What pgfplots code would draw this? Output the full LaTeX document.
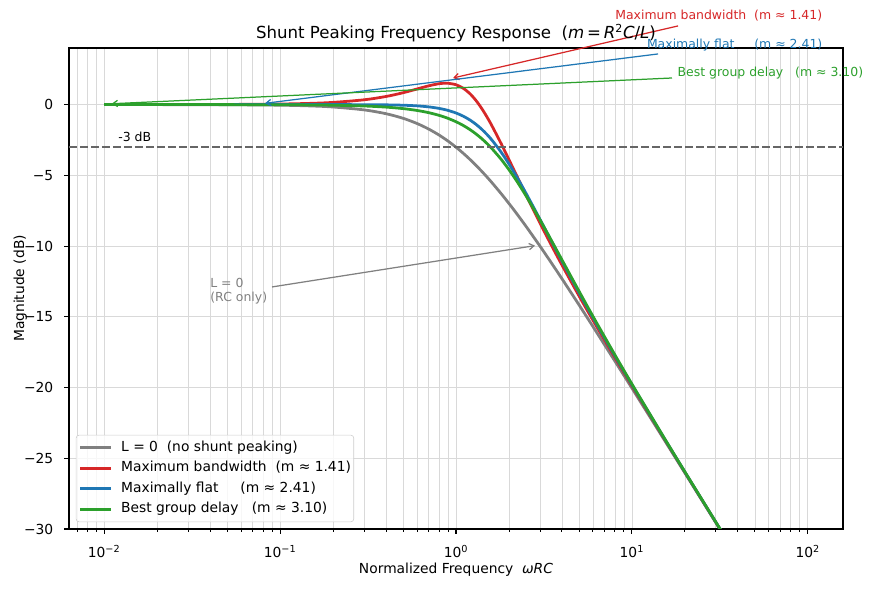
\documentclass[border=0pt]{standalone}
\usepackage{fontspec}
\setmainfont{DejaVu Sans}
\usepackage{pgfplots}
\usepackage{pgfplotstable}
\pgfplotsset{compat=1.18}
\usetikzlibrary{arrows.meta}

\definecolor{cGray}{HTML}{808080}
\definecolor{cRed}{HTML}{D62728}
\definecolor{cBlue}{HTML}{1F77B4}
\definecolor{cGreen}{HTML}{2CA02C}
\definecolor{cDash}{HTML}{666666}

% |H| in dB versus normalized frequency wRC
% L0: no inductor; mb: m = 1.41; mf: m = 2.41; gd: m = 3.10
\pgfplotstableread{
x      L0        mb        mf        gd
0.01   -0.0004   0.0004    0.0000   -0.0001
0.02   -0.0017   0.0016    0.0000   -0.0004
0.05   -0.0108   0.0099    0.0000   -0.0027
0.1    -0.0432   0.0395   -0.0001   -0.0109
0.15   -0.0966   0.0881   -0.0004   -0.0246
0.2    -0.1703   0.1550   -0.0012   -0.0439
0.3    -0.3743   0.3379   -0.0059   -0.0996
0.4    -0.6446   0.5729   -0.0185   -0.1791
0.5    -0.9691   0.8375   -0.0444   -0.2835
0.6    -1.3354   1.1013   -0.0900   -0.4140
0.7    -1.7319   1.3276   -0.1620   -0.5717
0.8    -2.1484   1.4758   -0.2667   -0.7571
0.875  -2.4690   1.5133   -0.3699   -0.9143
0.9    -2.5768   1.5093   -0.4093   -0.9702
1.0    -3.0103   1.4034   -0.5935   -1.2104
1.1    -3.4439   1.1527   -0.8207   -1.4762
1.2    -3.8739   0.7707   -1.0900   -1.7659
1.3    -4.2975   0.2844   -1.3984   -2.0768
1.4    -4.7129  -0.2740   -1.7413   -2.4062
1.5    -5.1188  -0.8749   -2.1130   -2.7509
1.6    -5.5145  -1.4944   -2.5073   -3.1079
1.8    -6.2737  -2.7249   -3.3397   -3.8464
2.0    -6.9897  -3.8876   -4.1961   -4.5997
2.2    -7.6641  -4.9568   -5.0458   -5.3508
2.5    -8.6034  -6.3846   -6.2675   -6.4470
3.0   -10.0000  -8.3681   -8.1040   -8.1411
3.5   -11.2222  -9.9821   -9.6851   -9.6450
4     -12.3045 -11.3346  -11.0476  -10.9697
5     -14.1497 -13.5130  -13.2780  -13.1804
6     -15.6820 -15.2340  -15.0490  -14.9580
8     -18.1291 -17.8740  -17.7570  -17.6890
10    -20.0432 -19.8790  -19.8000  -19.7510
15    -23.5411 -23.4670  -23.4300  -23.4060
20    -26.0314 -25.9900  -25.9690  -25.9550
30    -29.5472 -29.5290  -29.5190  -29.5130
40    -32.0439 -32.0340  -32.0280  -32.0250
}\response

\begin{document}
\begin{tikzpicture}
\path[use as bounding box] (-0.69in,-0.62in) rectangle (8.04in,5.29in);
\begin{axis}[
  at={(0,0)}, anchor=south west,
  scale only axis, width=7.74in, height=4.81in,
  xmode=log, xmin=0.00631, xmax=158.5, ymin=-30, ymax=4,
  clip mode=individual,
  axis line style={black, line width=0.8pt},
  tick pos=left, tick align=outside,
  major tick length=3.5pt, minor tick length=2pt,
  major tick style={black, line width=0.8pt},
  minor tick style={black, line width=0.6pt},
  grid=both,
  major grid style={black!15, line width=0.5pt},
  minor grid style={black!15, line width=0.5pt},
  xtick={0.01,0.1,1,10,100},
  xticklabels={10\textsuperscript{−2},10\textsuperscript{−1},10\textsuperscript{0},10\textsuperscript{1},10\textsuperscript{2}},
  minor xtick={0.007,0.008,0.009,0.02,0.03,0.04,0.05,0.06,0.07,0.08,0.09,
               0.2,0.3,0.4,0.5,0.6,0.7,0.8,0.9,2,3,4,5,6,7,8,9,
               20,30,40,50,60,70,80,90},
  ytick={-30,-25,-20,-15,-10,-5,0},
  yticklabels={−30,−25,−20,−15,−10,−5,0},
  xticklabel style={inner sep=0pt, anchor=base, yshift=-17.3pt},
  yticklabel style={inner sep=0pt, anchor=east, xshift=-7.7pt},
  legend cell align=left,
  legend image code/.code={\draw[#1, line width=2pt] (0pt,0pt) -- (22pt,0pt);},
  legend style={
    at={(0,0)}, anchor=south west, xshift=5pt, yshift=5pt,
    draw=black!20, rounded corners=2pt,
    fill=white, fill opacity=0.8, text opacity=1,
    font=\fontsize{10}{12}\selectfont,
    inner xsep=2pt, inner ysep=4pt, row sep=5pt, column sep=6.5pt,
    nodes={inner sep=0pt, text height=7.5pt, text depth=2.4pt},
  },
]
\addplot[cGray, line width=2pt, smooth] table[x=x, y=L0] {\response};
\addlegendentry{L = 0~~(no shunt peaking)}
\addplot[cRed, line width=2pt, smooth] table[x=x, y=mb] {\response};
\addlegendentry{Maximum bandwidth~~(m ≈ 1.41)}
\addplot[cBlue, line width=2pt, smooth] table[x=x, y=mf] {\response};
\addlegendentry{Maximally flat~~~~~(m ≈ 2.41)}
\addplot[cGreen, line width=2pt, smooth] table[x=x, y=gd] {\response};
\addlegendentry{Best group delay~~~(m ≈ 3.10)}

% -3 dB reference level
\addplot[cDash, line width=1.5pt, dash pattern=on 5.55pt off 2.4pt, forget plot]
  coordinates {(0.00631,-3) (158.5,-3)};
\node[anchor=base west, inner sep=0pt, font=\fontsize{9}{11}\selectfont]
  at (axis cs:0.012,-2.64) {-3 dB};

% annotations
\tikzset{ann/.style={line width=0.9pt, -{Straight Barb[length=3.5pt, width=4.5pt]}}}
\draw[ann, cRed]   (axis cs:18.3,5.56)  -- (axis cs:0.962,1.88);
\draw[ann, cBlue]  (axis cs:14.08,3.58) -- (axis cs:0.0821,0.09);
\draw[ann, cGreen] (axis cs:16.9,1.88)  -- (axis cs:0.01103,0.06);
\draw[ann, cGray]  (axis cs:0.090,-12.89) -- (axis cs:2.814,-9.97);

\begin{scope}[every node/.style={anchor=base west, inner sep=0pt, font=\fontsize{9}{11}\selectfont}]
\node[text=cRed]   at (axis cs:8.02,5.98)  {Maximum bandwidth~~(m ≈ 1.41)};
\node[text=cBlue]  at (axis cs:12.14,3.98) {Maximally flat~~~~~(m ≈ 2.41)};
\node[text=cGreen] at (axis cs:18.13,1.95) {Best group delay~~~(m ≈ 3.10)};
\node[text=cGray]  at (axis cs:0.04,-12.95) {L = 0};
\node[text=cGray]  at (axis cs:0.04,-13.9)  {(RC only)};
\end{scope}
\end{axis}

% title and axis labels
\node[anchor=base, font=\fontsize{12}{14}\selectfont] at (3.87in,4.9069in)
  {Shunt Peaking Frequency Response~~(\textit{m}\,=\,\textit{R}\textsuperscript{2}\textit{C}/\textit{L})};
\node[anchor=base, font=\fontsize{10}{12}\selectfont] at (3.87in,-32.4pt)
  {Normalized Frequency~~\textit{ωRC}};
\node[anchor=base, rotate=90, font=\fontsize{10}{12}\selectfont] at (-32.4pt,2.405in)
  {Magnitude (dB)};
\end{tikzpicture}
\end{document}
